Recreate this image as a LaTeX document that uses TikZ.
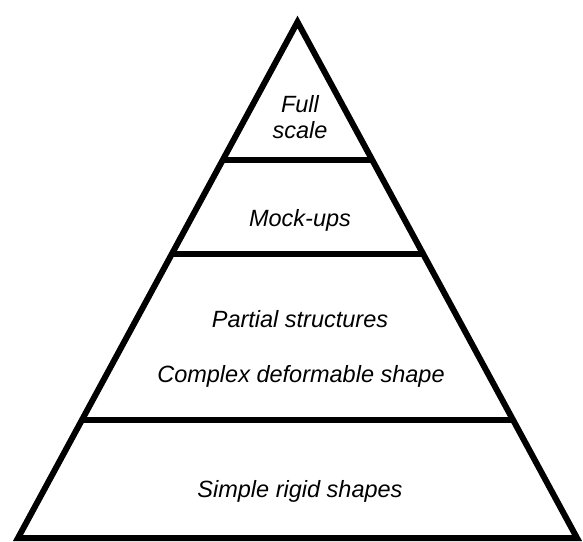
\documentclass[tikz,border=0pt]{standalone}
\usepackage{fontspec}
\setmainfont{Liberation Sans}
\usetikzlibrary{calc}
\begin{document}
\begin{tikzpicture}[x=1bp,y=-1bp,
  edge/.style={line width=6bp,line join=miter,line cap=butt},
  lbl/.style={anchor=base,inner sep=0pt,font=\fontsize{23.5bp}{28bp}\selectfont\itshape}]
\useasboundingbox (0,0) rectangle (583,542);
\coordinate (A) at (297.5,22);
\coordinate (L) at (18,538);
\coordinate (R) at (577,538);
\draw[edge] (A) -- (L) -- (R) -- cycle;
\coordinate (l1) at ($(L)!0.7326!(A)$);
\coordinate (r1) at ($(R)!0.7326!(A)$);
\coordinate (l2) at ($(L)!0.5504!(A)$);
\coordinate (r2) at ($(R)!0.5504!(A)$);
\coordinate (l3) at ($(L)!0.2287!(A)$);
\coordinate (r3) at ($(R)!0.2287!(A)$);
\draw[edge] (l1) -- (r1);
\draw[edge] (l2) -- (r2);
\draw[edge] (l3) -- (r3);
\node[lbl] (full) at (300,113) {Full};
\node[lbl] (scale) at (300,139) {scale};
\node[lbl] (mock) at (300,227) {Mock-ups};
\node[lbl] (partial) at (300,327) {Partial structures};
\node[lbl] (complex) at (301,382) {Complex deformable shape};
\node[lbl] (simple) at (300,497) {Simple rigid shapes};
\end{tikzpicture}
\end{document}
